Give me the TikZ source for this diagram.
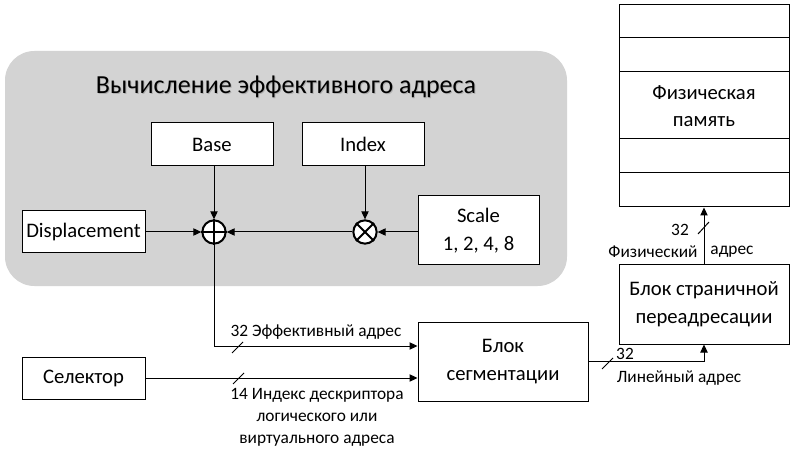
\documentclass[tikz,border=0pt]{standalone}
\usepackage{fontspec}
\setmainfont{Carlito}
\usetikzlibrary{arrows.meta,calc}
\definecolor{panelgray}{RGB}{211,211,211}
\begin{document}
\begin{tikzpicture}[x=0.75pt,y=-0.75pt,
  boxnode/.style={draw=black,line width=0.75pt,fill=white,inner sep=0pt,align=center,
    font=\fontsize{15.5}{21}\selectfont},
  lbl/.style={inner sep=0pt,align=center,font=\fontsize{13}{16.5}\selectfont},
  arr/.style={line width=0.75pt,-{Triangle[length=6pt,width=5.5pt]}},
  opnode/.style={draw=black,circle,line width=1.5pt,fill=white,minimum size=17.5pt,inner sep=0pt},
  tick/.style={line width=0.75pt}
]
\useasboundingbox (0,0) rectangle (794,453);
\fill[white] (0,0) rectangle (794,453);
% panel
\fill[panelgray,rounded corners=22pt] (5,51) rectangle (567,286);
\node[font=\fontsize{19.5}{24}\selectfont,text=black!45,opacity=0.5] at (287,88) {Вычисление эффективного адреса};
\node[font=\fontsize{19.5}{24}\selectfont] (title) at (286,87) {Вычисление эффективного адреса};

% boxes
\node[boxnode,minimum width=91.5pt,minimum height=32.25pt] (base) at (212,144.5) {Base};
\node[boxnode,minimum width=91.5pt,minimum height=32.25pt] (index) at (363,144.5) {Index};
\node[boxnode,minimum width=92.25pt,minimum height=31.5pt] (disp) at (83.5,232) {Displacement};
\node[boxnode,minimum width=90.75pt,minimum height=51.75pt] (scale) at (478.5,230.5) {Scale\\1, 2, 4, 8};
\node[opnode] (plus) at (214,232) {};
\node[opnode] (times) at (365,232) {};
\draw[line width=1.5pt] (plus.north) -- (plus.south) (plus.west) -- (plus.east);
\draw[line width=1.5pt] (times.north west) -- (times.south east) (times.north east) -- (times.south west);

\node[boxnode,minimum width=127.5pt,minimum height=59.25pt] (seg) at (503,361.5) {Блок\\сегментации};
\node[boxnode,minimum width=92.25pt,minimum height=31.5pt] (sel) at (83.5,378) {Селектор};
\node[boxnode,minimum width=127.5pt,minimum height=59.25pt] (page) at (704,304.5) {Блок страничной\\переадресации};
\node[boxnode,minimum width=127.5pt,minimum height=151.5pt,
  font=\fontsize{15.5}{20}\selectfont] (mem) at (704,106) {Физическая\\память};
\draw[line width=0.75pt] (619,38) -- (789,38) (619,72) -- (789,72) (619,139) -- (789,139) (619,173) -- (789,173);

% connectors
\draw[arr] (plus.north |- base.south) -- (plus.north);
\draw[arr] (times.north |- index.south) -- (times.north);
\draw[arr] (disp.east) -- (plus.west);
\draw[arr] (times.west) -- (plus.east);
\draw[arr] (times.east -| scale.west) -- (times.east);
\draw[arr] (plus.south) |- ($(seg.west)+(0,-15.5)$);
\draw[arr] (sel.east) -- (sel.east -| seg.west);
\draw[arr] (seg.east) -| (page.south);
\draw[arr] (page.north) -- (mem.south);

% bus ticks
\draw[tick] (232,353) -- (243,342);
\draw[tick] (233,384) -- (244,373);
\draw[tick] (602,369) -- (613,358);
\draw[tick] (698,234) -- (709,222);

% labels
\node[lbl] (effl) at (316,332) {32 Эффективный адрес};
\node[lbl,anchor=north] (idxl) at (317,388) {14 Индекс дескриптора\\логического или\\виртуального адреса};
\node[lbl] (lin32) at (625,354) {32};
\node[lbl] (linl) at (679,378) {Линейный адрес};
\node[lbl] (ph32) at (680,230) {32};
\node[lbl] (phl1) at (653,252) {Физический};
\node[lbl] (phl2) at (732,252) {адрес};
\end{tikzpicture}
\end{document}
